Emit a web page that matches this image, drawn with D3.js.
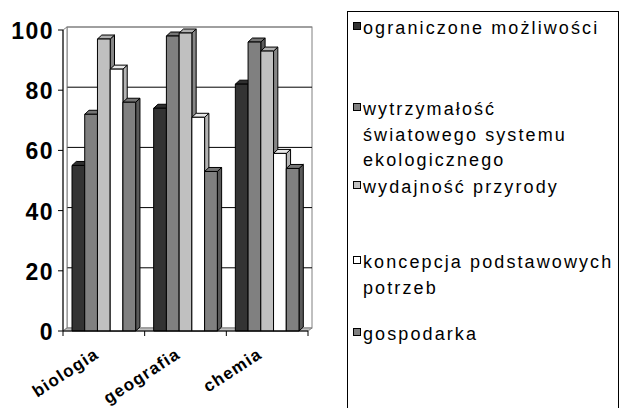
<!DOCTYPE html>
<html>
<head>
<meta charset="utf-8">
<script src="https://cdn.jsdelivr.net/npm/d3@7.9.0/dist/d3.min.js"></script>
<style>
  body { margin: 0; background: #fff; }
  svg { display: block; font-family: "Liberation Sans", Arial, sans-serif; }
</style>
</head>
<body>
<svg id="chart" width="620" height="408"></svg>
<script>
// data
const categories = ['biologia', 'geografia', 'chemia'];
const seriesLabels = [
  ['ograniczone możliwości'],
  ['wytrzymałość', 'światowego systemu', 'ekologicznego'],
  ['wydajność przyrody'],
  ['koncepcja podstawowych', 'potrzeb'],
  ['gospodarka']
];
const ograniczone = [55, 74, 82];
const wytrzymalosc = [72, 98, 96];
const wydajnosc = [97, 99, 93];
const koncepcja = [87, 71, 59];
const gospodarka = [76, 53, 54];
const yTicks = [0, 20, 40, 60, 80, 100];

const seriesValues = [ograniczone, wytrzymalosc, wydajnosc, koncepcja, gospodarka];
const fills = ['#333333', '#808080', '#c0c0c0', '#ffffff', '#808080'];

const svg = d3.select('#chart');

// 3d depth of walls / bars
const dx = 4, dy = -3;
const bdx = 4.3, bdy = -4;

const y = d3.scaleLinear().domain([0, 100]).range([331, 30]);
const x0 = d3.scaleBand().domain(categories).range([63, 308]);
const x1 = d3.scaleBand().domain(d3.range(seriesValues.length))
  .range([9, x0.bandwidth() - 9]);

const plotL = 63, plotR = 308, plotB = y(0), plotT = y(100);

// back wall
svg.append('rect')
  .attr('x', plotL + dx).attr('y', plotT + dy)
  .attr('width', plotR - plotL).attr('height', plotB - plotT)
  .attr('fill', '#fff').attr('stroke', '#808080');

// gridlines on the back wall
svg.selectAll('.grid').data(yTicks.filter(d => d > 0)).join('line')
  .attr('x1', plotL + dx).attr('x2', plotR + dx)
  .attr('y1', d => y(d) + dy).attr('y2', d => y(d) + dy)
  .attr('stroke', d => d === 100 ? '#808080' : '#000');

// left side wall
svg.append('path')
  .attr('d', `M${plotL},${plotT}L${plotL + dx},${plotT + dy}L${plotL + dx},${plotB + dy}L${plotL},${plotB}Z`)
  .attr('fill', '#fff').attr('stroke', '#808080');

// floor
svg.append('path')
  .attr('d', `M${plotL},${plotB}L${plotL + dx},${plotB + dy}L${plotR + dx},${plotB + dy}L${plotR},${plotB}Z`)
  .attr('fill', '#c0c0c0').attr('stroke', '#808080');

// bars, left to right so each front face covers its neighbour's side
categories.forEach((cat, ci) => {
  seriesValues.forEach((vals, si) => {
    const v = vals[ci];
    const bx = x0(cat) + x1(si);
    const bw = x1.bandwidth();
    const by = y(v);
    const c = fills[si];
    const g = svg.append('g').attr('stroke', '#000').attr('stroke-width', 1)
      .attr('stroke-linejoin', 'round');
    g.append('path')
      .attr('d', `M${bx + bw},${by}L${bx + bw + bdx},${by + bdy}L${bx + bw + bdx},${plotB + bdy}L${bx + bw},${plotB}Z`)
      .attr('fill', d3.rgb(c).darker(1));
    g.append('path')
      .attr('d', `M${bx},${by}L${bx + bdx},${by + bdy}L${bx + bw + bdx},${by + bdy}L${bx + bw},${by}Z`)
      .attr('fill', d3.rgb(c).darker(0.25));
    g.append('rect')
      .attr('x', bx).attr('y', by).attr('width', bw).attr('height', plotB - by)
      .attr('fill', c);
  });
});

// y axis
const yAxis = svg.append('g');
yAxis.append('line').attr('x1', plotL).attr('x2', plotL).attr('y1', plotT).attr('y2', plotB)
  .attr('stroke', '#000');
yAxis.selectAll('.tick').data(yTicks).join('line')
  .attr('x1', plotL - 5).attr('x2', plotL)
  .attr('y1', d => y(d)).attr('y2', d => y(d))
  .attr('stroke', '#000');
yAxis.selectAll('text').data(yTicks).join('text')
  .attr('x', 54).attr('y', d => y(d) + 9)
  .attr('text-anchor', 'end')
  .attr('font-size', 23).attr('font-weight', 'bold')
  .attr('letter-spacing', 1.5)
  .text(d => d);

// x axis
const xAxis = svg.append('g');
xAxis.append('line').attr('x1', plotL).attr('x2', plotR).attr('y1', plotB).attr('y2', plotB)
  .attr('stroke', '#000');
xAxis.selectAll('.tick').data([...categories.map(c => x0(c)), plotR]).join('line')
  .attr('x1', d => d).attr('x2', d => d)
  .attr('y1', plotB).attr('y2', plotB + 5)
  .attr('stroke', '#000');
xAxis.selectAll('text').data(categories).join('text')
  .attr('transform', c => `translate(${x0(c) + x0.bandwidth() / 2 - 4},${plotB + 26}) rotate(-33)`)
  .attr('text-anchor', 'end')
  .attr('font-size', 17).attr('font-weight', 'bold')
  .attr('letter-spacing', 1.2)
  .text(c => c);

// legend
const legend = svg.append('g');
legend.append('rect')
  .attr('x', 347.5).attr('y', 11.5).attr('width', 271).attr('height', 420)
  .attr('fill', '#fff').attr('stroke', '#000');
const legendBaselines = [34, 115, 193, 268, 340];
const lineH = 25.5;
seriesLabels.forEach((lines, i) => {
  const b = legendBaselines[i];
  legend.append('rect')
    .attr('x', 353.5).attr('y', b - 11.5).attr('width', 7).attr('height', 7)
    .attr('fill', fills[i]).attr('stroke', '#000');
  const t = legend.append('text')
    .attr('x', 363).attr('y', b)
    .attr('font-size', 18).attr('letter-spacing', 2.1)
    .attr('fill', '#000');
  lines.forEach((ln, j) => {
    t.append('tspan').attr('x', 363).attr('y', b + j * lineH).text(ln);
  });
});
</script>
</body>
</html>
